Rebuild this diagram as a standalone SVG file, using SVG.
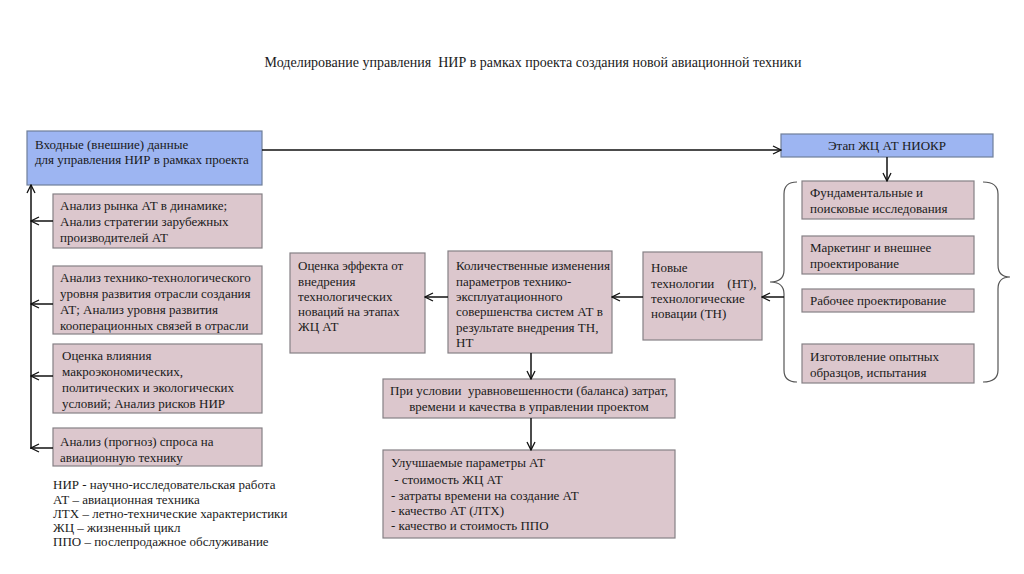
<svg xmlns="http://www.w3.org/2000/svg" width="1024" height="574" viewBox="0 0 1024 574">
<defs>
<marker id="arr" viewBox="0 0 10 10" refX="9" refY="5" markerWidth="10" markerHeight="10" markerUnits="userSpaceOnUse" orient="auto">
<path d="M1,1 L9,5 L1,9" fill="none" stroke="#111" stroke-width="1.3"/>
</marker>
</defs>
<rect width="1024" height="574" fill="#fff"/>
<text font-family="Liberation Serif" font-size="14" fill="#1a1a1a" text-anchor="middle" x="533" y="67" xml:space="preserve">Моделирование управления  НИР в рамках проекта создания новой авиационной техники</text>

<g id="input">
<rect fill="#9db5f2" stroke="#6f7f99" stroke-width="1.2" x="27" y="131" width="235" height="54"/>
<text font-family="Liberation Serif" font-size="13" fill="#1a1a1a" x="35" y="149">Входные (внешние) данные</text>
<text font-family="Liberation Serif" font-size="13" fill="#1a1a1a" x="35" y="164">для управления НИР в рамках проекта</text>
</g>
<g id="market">
<rect fill="#dcc7cd" stroke="#858085" stroke-width="1.2" x="53" y="194" width="209" height="54"/>
<text font-family="Liberation Serif" font-size="13" fill="#1a1a1a" x="60" y="210">Анализ рынка АТ в динамике;</text>
<text font-family="Liberation Serif" font-size="13" fill="#1a1a1a" x="60" y="226">Анализ стратегии зарубежных</text>
<text font-family="Liberation Serif" font-size="13" fill="#1a1a1a" x="60" y="242">производителей АТ</text>
</g>
<g id="tech">
<rect fill="#dcc7cd" stroke="#858085" stroke-width="1.2" x="53" y="266" width="209" height="68"/>
<text font-family="Liberation Serif" font-size="13" fill="#1a1a1a" x="60" y="282">Анализ технико-технологического</text>
<text font-family="Liberation Serif" font-size="13" fill="#1a1a1a" x="60" y="298">уровня развития отрасли создания</text>
<text font-family="Liberation Serif" font-size="13" fill="#1a1a1a" x="60" y="314">АТ; Анализ уровня развития</text>
<text font-family="Liberation Serif" font-size="13" fill="#1a1a1a" x="60" y="330">кооперационных связей в отрасли</text>
</g>
<g id="macro">
<rect fill="#dcc7cd" stroke="#858085" stroke-width="1.2" x="53" y="344" width="209" height="69"/>
<text font-family="Liberation Serif" font-size="13" fill="#1a1a1a" x="62" y="360">Оценка влияния</text>
<text font-family="Liberation Serif" font-size="13" fill="#1a1a1a" x="62" y="376">макроэкономических,</text>
<text font-family="Liberation Serif" font-size="13" fill="#1a1a1a" x="62" y="392">политических и экологических</text>
<text font-family="Liberation Serif" font-size="13" fill="#1a1a1a" x="62" y="408">условий; Анализ рисков НИР</text>
</g>
<g id="demand">
<rect fill="#dcc7cd" stroke="#858085" stroke-width="1.2" x="53" y="428" width="209" height="38"/>
<text font-family="Liberation Serif" font-size="13" fill="#1a1a1a" x="60" y="446">Анализ (прогноз) спроса на</text>
<text font-family="Liberation Serif" font-size="13" fill="#1a1a1a" x="60" y="462">авиационную технику</text>
</g>
<g id="legend">
<text font-family="Liberation Serif" font-size="13" fill="#1a1a1a" x="53" y="489">НИР - научно-исследовательская работа</text>
<text font-family="Liberation Serif" font-size="13" fill="#1a1a1a" x="53" y="504">АТ – авиационная техника</text>
<text font-family="Liberation Serif" font-size="13" fill="#1a1a1a" x="53" y="518">ЛТХ – летно-технические характеристики</text>
<text font-family="Liberation Serif" font-size="13" fill="#1a1a1a" x="53" y="532">ЖЦ – жизненный цикл</text>
<text font-family="Liberation Serif" font-size="13" fill="#1a1a1a" x="53" y="546">ППО – послепродажное обслуживание</text>
</g>

<g id="stage">
<rect fill="#9db5f2" stroke="#6f7f99" stroke-width="1.2" x="781" y="134" width="212" height="23"/>
<text font-family="Liberation Serif" font-size="13" fill="#1a1a1a" text-anchor="middle" x="887" y="150">Этап ЖЦ АТ НИОКР</text>
</g>
<g id="fund">
<rect fill="#dcc7cd" stroke="#858085" stroke-width="1.2" x="802" y="181" width="172" height="38"/>
<text font-family="Liberation Serif" font-size="13" fill="#1a1a1a" x="810" y="197">Фундаментальные и</text>
<text font-family="Liberation Serif" font-size="13" fill="#1a1a1a" x="810" y="213">поисковые исследования</text>
</g>
<g id="marketing">
<rect fill="#dcc7cd" stroke="#858085" stroke-width="1.2" x="802" y="236" width="172" height="38"/>
<text font-family="Liberation Serif" font-size="13" fill="#1a1a1a" x="810" y="252">Маркетинг и внешнее</text>
<text font-family="Liberation Serif" font-size="13" fill="#1a1a1a" x="810" y="268">проектирование</text>
</g>
<g id="work">
<rect fill="#dcc7cd" stroke="#858085" stroke-width="1.2" x="802" y="289" width="172" height="23"/>
<text font-family="Liberation Serif" font-size="13" fill="#1a1a1a" x="810" y="305">Рабочее проектирование</text>
</g>
<g id="proto">
<rect fill="#dcc7cd" stroke="#858085" stroke-width="1.2" x="802" y="344" width="172" height="39"/>
<text font-family="Liberation Serif" font-size="13" fill="#1a1a1a" x="810" y="361">Изготовление опытных</text>
<text font-family="Liberation Serif" font-size="13" fill="#1a1a1a" x="810" y="377">образцов, испытания</text>
</g>
<g id="braces" fill="none" stroke="#555" stroke-width="1.2">
<path d="M797,182 Q784,182 784,194 L784,270 Q784,282 770,282 Q784,282 784,294 L784,370 Q784,382 797,382"/>
<path d="M983,182 Q998,182 998,194 L998,265 Q998,277 1010,277 Q998,277 998,289 L998,370 Q998,382 983,382"/>
</g>

<g id="newtech">
<rect fill="#dcc7cd" stroke="#858085" stroke-width="1.2" x="643" y="252" width="119" height="88"/>
<text font-family="Liberation Serif" font-size="13" fill="#1a1a1a" x="651" y="272">Новые</text>
<text font-family="Liberation Serif" font-size="13" fill="#1a1a1a" x="651" y="288" xml:space="preserve">технологии    (НТ),</text>
<text font-family="Liberation Serif" font-size="13" fill="#1a1a1a" x="651" y="303">технологические</text>
<text font-family="Liberation Serif" font-size="13" fill="#1a1a1a" x="651" y="318">новации (ТН)</text>
</g>
<g id="quant">
<rect fill="#dcc7cd" stroke="#858085" stroke-width="1.2" x="448" y="251" width="164" height="102"/>
<text font-family="Liberation Serif" font-size="13" fill="#1a1a1a" x="456" y="270">Количественные изменения</text>
<text font-family="Liberation Serif" font-size="13" fill="#1a1a1a" x="456" y="286">параметров технико-</text>
<text font-family="Liberation Serif" font-size="13" fill="#1a1a1a" x="456" y="301">эксплуатационного</text>
<text font-family="Liberation Serif" font-size="13" fill="#1a1a1a" x="456" y="316">совершенства систем АТ в</text>
<text font-family="Liberation Serif" font-size="13" fill="#1a1a1a" x="456" y="332">результате внедрения ТН,</text>
<text font-family="Liberation Serif" font-size="13" fill="#1a1a1a" x="456" y="347">НТ</text>
</g>
<g id="effect">
<rect fill="#dcc7cd" stroke="#858085" stroke-width="1.2" x="290" y="253" width="135" height="100"/>
<text font-family="Liberation Serif" font-size="13" fill="#1a1a1a" x="298" y="270">Оценка эффекта от</text>
<text font-family="Liberation Serif" font-size="13" fill="#1a1a1a" x="298" y="286">внедрения</text>
<text font-family="Liberation Serif" font-size="13" fill="#1a1a1a" x="298" y="301">технологических</text>
<text font-family="Liberation Serif" font-size="13" fill="#1a1a1a" x="298" y="316">новаций на этапах</text>
<text font-family="Liberation Serif" font-size="13" fill="#1a1a1a" x="298" y="331">ЖЦ АТ</text>
</g>
<g id="balance">
<rect fill="#dcc7cd" stroke="#858085" stroke-width="1.2" x="383" y="379" width="292" height="39"/>
<text font-family="Liberation Serif" font-size="13" fill="#1a1a1a" text-anchor="middle" x="529" y="395" xml:space="preserve">При условии  уравновешенности (баланса) затрат,</text>
<text font-family="Liberation Serif" font-size="13" fill="#1a1a1a" text-anchor="middle" x="529" y="411">времени и качества в управлении проектом</text>
</g>
<g id="improved">
<rect fill="#dcc7cd" stroke="#858085" stroke-width="1.2" x="383" y="450" width="292" height="88"/>
<text font-family="Liberation Serif" font-size="13" fill="#1a1a1a" x="391" y="467">Улучшаемые параметры АТ</text>
<text font-family="Liberation Serif" font-size="13" fill="#1a1a1a" x="391" y="484" xml:space="preserve"> - стоимость ЖЦ АТ</text>
<text font-family="Liberation Serif" font-size="13" fill="#1a1a1a" x="391" y="500">- затраты времени на создание АТ</text>
<text font-family="Liberation Serif" font-size="13" fill="#1a1a1a" x="391" y="515">- качество АТ (ЛТХ)</text>
<text font-family="Liberation Serif" font-size="13" fill="#1a1a1a" x="391" y="530">- качество и стоимость ППО</text>
</g>

<g id="connectors" stroke="#111" stroke-width="1.5">
<line x1="262" y1="150" x2="781" y2="150" marker-end="url(#arr)"/>
<line x1="887" y1="157" x2="887" y2="181" marker-end="url(#arr)"/>
<line x1="784" y1="297" x2="762" y2="297" marker-end="url(#arr)"/>
<line x1="643" y1="297" x2="612" y2="297" marker-end="url(#arr)"/>
<line x1="448" y1="297" x2="425" y2="297" marker-end="url(#arr)"/>
<line x1="531" y1="353" x2="531" y2="379" marker-end="url(#arr)"/>
<line x1="531" y1="418" x2="531" y2="450" marker-end="url(#arr)"/>
<line x1="31" y1="449" x2="31" y2="185" marker-end="url(#arr)"/>
<line x1="53" y1="221" x2="31" y2="221" marker-end="url(#arr)"/>
<line x1="53" y1="304" x2="31" y2="304" marker-end="url(#arr)"/>
<line x1="53" y1="376" x2="31" y2="376" marker-end="url(#arr)"/>
<line x1="53" y1="448" x2="31" y2="448" marker-end="url(#arr)"/>
</g>
</svg>
